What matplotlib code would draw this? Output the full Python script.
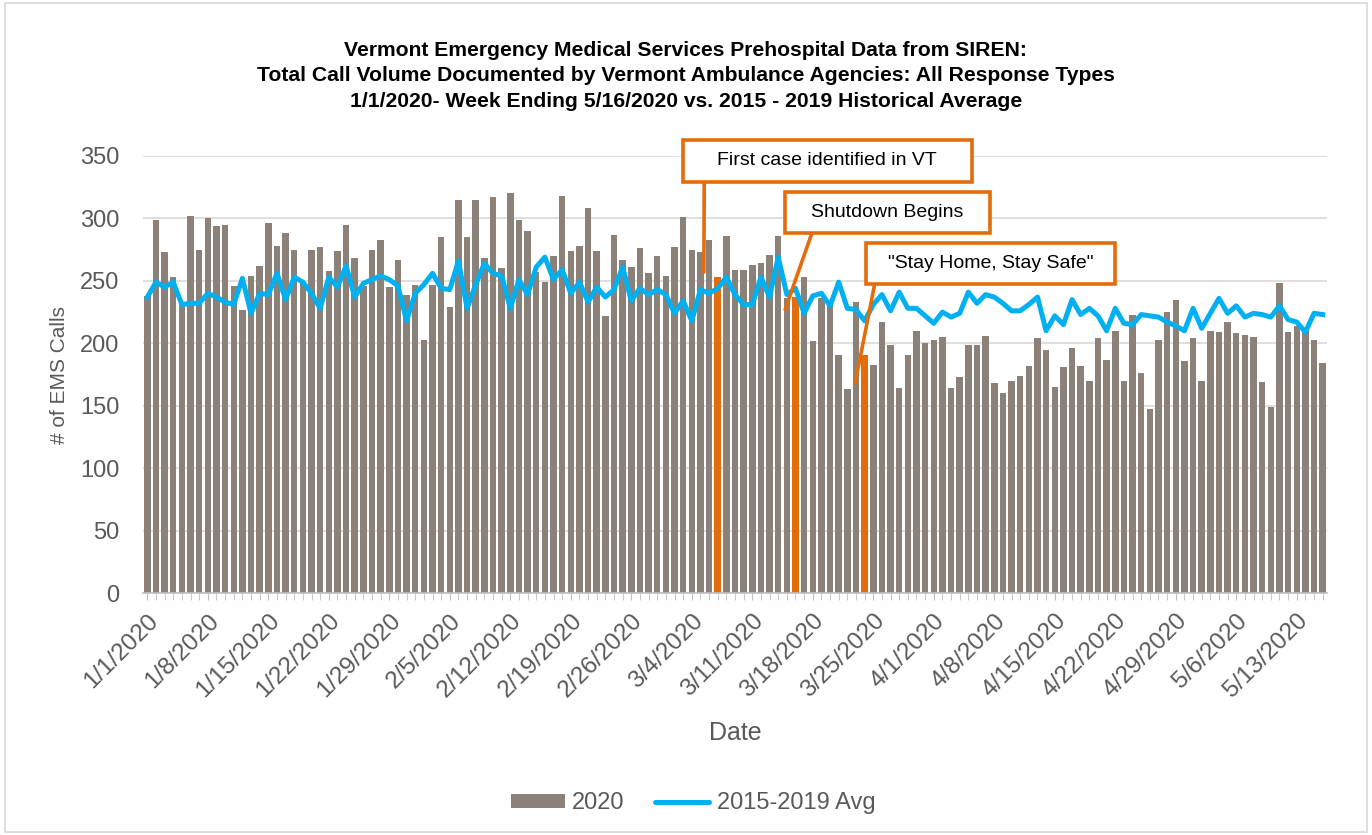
import numpy as np
import matplotlib
matplotlib.use("Agg")
import matplotlib.pyplot as plt
from matplotlib.patches import Rectangle, Patch
from matplotlib.lines import Line2D

plt.rcParams["font.family"] = ["Liberation Sans", "DejaVu Sans"]

# daily call volume 1/1/2020 - 5/16/2020
calls_2020 = [
    238, 299, 273, 253, 231, 302, 275, 300, 294, 295, 246, 227, 254, 262, 296, 278,
    288, 275, 249, 275, 277, 258, 274, 295, 268, 246, 275, 283, 245, 267, 239, 247,
    203, 247, 285, 229, 315, 285, 315, 268, 317, 260, 320, 299, 290, 257, 249, 270,
    318, 274, 278, 308, 274, 222, 287, 267, 261, 276, 256, 270, 254, 277, 301, 275,
    273, 283, 253, 286, 259, 259, 263, 264, 271, 286, 236, 237, 253, 202, 236, 232,
    191, 163, 233, 191, 183, 217, 199, 164, 191, 210, 200, 203, 205, 164, 173, 199,
    199, 206, 168, 160, 170, 174, 182, 204, 195, 165, 181, 196, 182, 170, 204, 187,
    210, 170, 223, 176, 147, 203, 225, 235, 186, 204, 170, 210, 209, 217, 208, 207,
    205, 169, 149, 248, 209, 214, 210, 203, 184,
]

# 2015-2019 historical average for the same days
hist_avg = [
    237, 249, 245, 249, 231, 232, 232, 240, 237, 233, 231, 252, 224, 240, 239, 256,
    235, 253, 249, 240, 228, 253, 245, 262, 237, 248, 251, 254, 251, 246, 218, 240,
    247, 256, 244, 243, 266, 228, 247, 264, 256, 254, 228, 251, 239, 261, 269, 251,
    259, 240, 249, 233, 245, 237, 243, 261, 234, 244, 239, 243, 239, 224, 234, 218,
    243, 240, 244, 253, 239, 231, 231, 253, 237, 269, 239, 244, 224, 238, 240, 230,
    249, 228, 227, 218, 231, 239, 226, 241, 228, 228, 222, 216, 225, 221, 224, 241,
    232, 239, 237, 232, 226, 226, 231, 237, 210, 222, 215, 235, 223, 228, 222, 210,
    228, 216, 215, 223, 222, 221, 217, 214, 210, 228, 212, 224, 236, 224, 230, 221,
    224, 223, 221, 230, 219, 217, 209, 224, 223,
]

tick_labels = ["1/1/2020", "1/8/2020", "1/15/2020", "1/22/2020", "1/29/2020",
               "2/5/2020", "2/12/2020", "2/19/2020", "2/26/2020", "3/4/2020",
               "3/11/2020", "3/18/2020", "3/25/2020", "4/1/2020", "4/8/2020",
               "4/15/2020", "4/22/2020", "4/29/2020", "5/6/2020", "5/13/2020"]

# highlighted days (day index from 1/1): 3/7, 3/16, 3/24
event_days = [66, 75, 83]
event_labels = ["First case identified in VT", "Shutdown Begins", '"Stay Home, Stay Safe"']

BAR_COLOR = "#8B8178"
LINE_COLOR = "#00B0F0"
ORANGE = "#E46C0A"
TEXT_GRAY = "#595959"

fig = plt.figure(figsize=(13.72, 8.35), dpi=100)
ax = fig.add_axes([143 / 1372, 1 - 593 / 835, 1184 / 1372, 437 / 835])

# chart frame
fig.patches.append(Rectangle((0.004, 0.004), 0.992, 0.992, transform=fig.transFigure,
                             fill=False, edgecolor="#D9D9D9", linewidth=1.2))

x = np.arange(len(calls_2020))
colors = [ORANGE if i in event_days else BAR_COLOR for i in x]
ax.bar(x, calls_2020, width=0.75, color=colors, zorder=2)
ax.plot(x, hist_avg, color=LINE_COLOR, linewidth=3.6, solid_joinstyle="round", zorder=3)

ax.set_xlim(-0.5, len(calls_2020) - 0.5)
ax.set_ylim(0, 350)
ax.set_yticks(np.arange(0, 351, 50))
ax.yaxis.grid(True, color="#D9D9D9", linewidth=1.2, zorder=0)
ax.set_axisbelow(True)

ax.set_xticks(np.arange(0, len(calls_2020), 7))
ax.set_xticklabels(tick_labels, rotation=45, ha="right", rotation_mode="anchor")
ax.set_xticks(x, minor=True)
ax.tick_params(axis="x", which="both", length=5, color="#BFBFBF", labelsize=17.5,
               labelcolor=TEXT_GRAY, pad=7)
ax.tick_params(axis="y", length=0, labelsize=17, labelcolor=TEXT_GRAY, pad=17)

for s in ["top", "right", "left"]:
    ax.spines[s].set_visible(False)
ax.spines["bottom"].set_color("#BFBFBF")
ax.spines["bottom"].set_linewidth(1.2)

ax.set_xlabel("Date", fontsize=18, color=TEXT_GRAY, labelpad=14)
ax.set_ylabel("# of EMS Calls", fontsize=15, color=TEXT_GRAY, labelpad=8)

fig.text(0.5, 0.909, "Vermont Emergency Medical Services Prehospital Data from SIREN:\n"
         "Total Call Volume Documented by Vermont Ambulance Agencies: All Response Types\n"
         "1/1/2020- Week Ending 5/16/2020 vs. 2015 - 2019 Historical Average",
         ha="center", va="center", fontsize=15.2, fontweight="bold", color="black",
         linespacing=1.45)

# callout boxes (axes fraction) and their pointer targets (data)
boxes = [(0.456, 0.9405, 0.244, 0.0965), (0.542, 0.824, 0.173, 0.094),
         (0.611, 0.707, 0.210, 0.094)]
starts = [(0.474, 0.9405), (0.565, 0.824), (0.618, 0.707)]
targets = [(64.4, 257), (73.8, 227), (81.9, 168)]
for (bx, by, bw, bh), lab, st, tg in zip(boxes, event_labels, starts, targets):
    ax.annotate("", xy=tg, xycoords="data", xytext=st, textcoords="axes fraction",
                arrowprops=dict(arrowstyle="-", color=ORANGE, lw=2.6,
                                shrinkA=0, shrinkB=0), zorder=5, annotation_clip=False)
    ax.add_patch(Rectangle((bx, by), bw, bh, transform=ax.transAxes, facecolor="white",
                           edgecolor=ORANGE, linewidth=2.6, clip_on=False, zorder=6))
    ax.text(bx + bw / 2, by + bh / 2, lab, transform=ax.transAxes, ha="center",
            va="center", fontsize=14, color="black", zorder=7)

handles = [Patch(facecolor=BAR_COLOR, edgecolor="none"),
           Line2D([], [], color=LINE_COLOR, linewidth=3.6, solid_capstyle="round")]
fig.legend(handles, ["2020", "2015-2019 Avg"], loc="center", bbox_to_anchor=(0.505, 0.038),
           ncol=2, frameon=False, fontsize=17, labelcolor=TEXT_GRAY, handlelength=2.3,
           handleheight=0.55, handletextpad=0.3, columnspacing=1.3)

fig.savefig("out.png", dpi=100)
